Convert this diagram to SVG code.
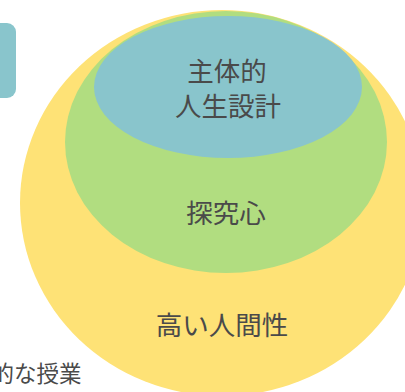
<svg xmlns="http://www.w3.org/2000/svg" width="405" height="392" viewBox="0 0 405 392">
<style>
.t{font-family:"Noto Sans CJK JP","Noto Sans",sans-serif;fill:#4a4a4a;text-anchor:middle;font-size:26.5px}
</style>
<rect width="405" height="392" fill="#ffffff"/>
<g id="side-box"><rect x="-40" y="23" width="56" height="75" rx="9" fill="#89c5cc"/></g>
<g id="side-text"><text class="t" x="81.5" y="382" style="text-anchor:end;font-size:22.5px">的な授業</text></g>
<g id="yellow"><ellipse cx="222" cy="203" rx="202" ry="193" fill="#fee276"/>
<text class="t" x="222" y="335">高い人間性</text></g>
<g id="green"><ellipse cx="226" cy="142" rx="161" ry="131" fill="#b1dd80"/>
<text class="t" x="226" y="223">探究心</text></g>
<g id="blue"><ellipse cx="228" cy="87" rx="134" ry="71" fill="#89c5cc"/>
<text class="t"><tspan x="227" y="81">主体的</tspan><tspan x="228" y="116">人生設計</tspan></text></g>
<g id="connectors"></g>
</svg>
